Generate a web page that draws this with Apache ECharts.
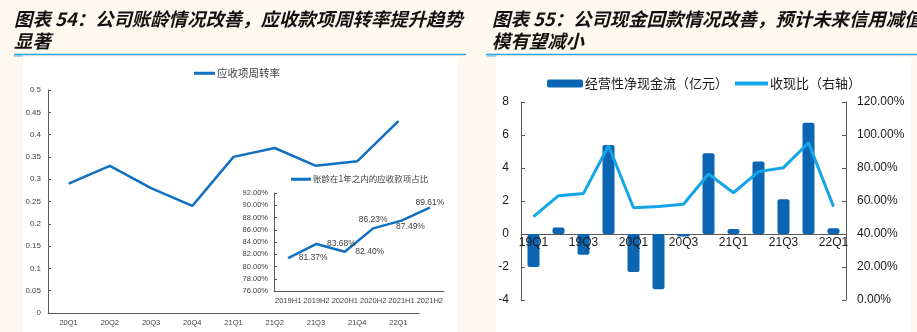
<!DOCTYPE html>
<html><head><meta charset="utf-8">
<script src="https://cdn.jsdelivr.net/npm/echarts@6/dist/echarts.min.js"></script>
<style>html,body{margin:0;padding:0;background:#fef9ee}#c{width:917px;height:332px}</style>
</head><body><div id="c"></div>
<script>
// ---- data ----
const leftCats = ['20Q1','20Q2','20Q3','20Q4','21Q1','21Q2','21Q3','21Q4','22Q1'];
const turnover = [0.29,0.33,0.28,0.24,0.35,0.37,0.33,0.34,0.43];
const insetCats = ['2019H1','2019H2','2020H1','2020H2','2021H1','2021H2'];
const agingShare = [81.37,83.68,82.40,86.23,87.49,89.61];
const rightCats = ['19Q1','19Q2','19Q3','19Q4','20Q1','20Q2','20Q3','20Q4','21Q1','21Q2','21Q3','21Q4','22Q1'];
const cashFlow = [-2.0,0.4,-1.25,5.4,-2.3,-3.35,-0.15,4.9,0.3,4.4,2.1,6.75,0.35];
const collectionRatio = [50.5,63.2,64.6,93.5,55.9,56.6,58.0,76.4,65.0,77.8,80.2,95.3,56.6];
const seriesNames = ['应收项周转率','账龄在1年之内的应收款项占比','经营性净现金流（亿元）','收现比（右轴）'];
const titleLeft = ['图表 54：公司账龄情况改善，应收款项周转率提升趋势','显著'];
const titleRight = ['图表 55：公司现金回款情况改善，预计未来信用减值','模有望减小'];

const chart = echarts.init(document.getElementById('c'));
const grey = '#404040';
const axisGrey = '#595959';
const sans = 'Liberation Sans, Arial, sans-serif';
const cjk = '"Noto Sans CJK SC", sans-serif';
const titleFont = 'italic bold 18.4px "Noto Sans CJK SC", sans-serif';

const insetLabelCfg = [
  {position:'right', distance:10},
  {position:'right', distance:10},
  {position:'right', distance:10},
  {position:'top', distance:4},
  {position:'bottom', distance:1, offset:[9,0]},
  {position:'top', distance:0}
];

const option = {
  backgroundColor: '#fef9ee',
  animation: false,
  graphic: [
    {type:'rect', shape:{x:23,y:57,width:434,height:275}, style:{fill:'#ffffff'}, z:-10},
    {type:'rect', shape:{x:496,y:57,width:415,height:275}, style:{fill:'#ffffff'}, z:-10},
    {type:'rect', shape:{x:14,y:55,width:9,height:2}, style:{fill:'#a8d8f0'}, z:-9},
    {type:'rect', shape:{x:487,y:55,width:9,height:2}, style:{fill:'#a8d8f0'}, z:-9},
    {type:'line', shape:{x1:14,y1:54.5,x2:466,y2:54.5}, style:{stroke:'#2aa6de',lineWidth:1.5}},
    {type:'line', shape:{x1:486,y1:54.5,x2:917,y2:54.5}, style:{stroke:'#2aa6de',lineWidth:1.5}},
    {type:'text', x:14, y:10, style:{text:titleLeft[0], font:titleFont, fill:'#111'}},
    {type:'text', x:14, y:32, style:{text:titleLeft[1], font:titleFont, fill:'#111'}},
    {type:'text', x:492, y:10, style:{text:titleRight[0], font:titleFont, fill:'#111'}},
    {type:'text', x:492, y:32, style:{text:titleRight[1], font:titleFont, fill:'#111'}}
  ],
  legend: [
    {data:[seriesNames[0]], left:189, top:63, itemWidth:21, itemHeight:3, icon:'rect', itemGap:0,
     textStyle:{fontSize:10.5, color:grey, fontFamily:cjk, padding:[0,0,0,-3]}},
    {data:[seriesNames[1]], left:286, top:170, itemWidth:20, itemHeight:3, icon:'rect',
     textStyle:{fontSize:8.5, color:grey, fontFamily:cjk, padding:[0,0,0,-3]}},
    {data:[{name:seriesNames[2], icon:'roundRect'}], left:542, top:72, itemWidth:36, itemHeight:8,
     textStyle:{fontSize:13, color:'#1a1a1a', fontFamily:cjk, padding:[0,0,0,-3]}},
    {data:[{name:seriesNames[3], icon:'rect'}], left:730, top:72, itemWidth:33, itemHeight:4,
     textStyle:{fontSize:13, color:'#1a1a1a', fontFamily:cjk, padding:[0,0,0,-3]}}
  ],
  grid: [
    {left:48, top:90, width:371, height:223},
    {left:274, top:193, width:170, height:98},
    {left:521, top:102, width:325, height:198}
  ],
  xAxis: [
    {type:'category', gridIndex:0, data:leftCats, boundaryGap:true,
     axisLine:{lineStyle:{color:axisGrey,width:1}},
     axisTick:{inside:true, length:4, lineStyle:{color:axisGrey}},
     axisLabel:{fontSize:7.5, color:grey, fontFamily:sans, margin:6}},
    {type:'category', gridIndex:1, data:insetCats, boundaryGap:true,
     axisLine:{lineStyle:{color:axisGrey,width:1}},
     axisTick:{show:false},
     axisLabel:{fontSize:7.5, color:grey, fontFamily:sans, margin:6, interval:0}},
    {type:'category', gridIndex:2, data:rightCats, boundaryGap:true,
     axisLine:{onZero:true, lineStyle:{color:axisGrey,width:1}},
     axisTick:{inside:true, length:4, interval:0, lineStyle:{color:axisGrey}},
     axisLabel:{show:false}},
    {type:'category', gridIndex:2, data:rightCats, boundaryGap:true, position:'bottom', offset:-66, z:10,
     axisLine:{show:false, onZero:false},
     axisTick:{show:false},
     axisLabel:{fontSize:12, color:'#1a1a1a', fontFamily:sans, margin:3, interval:1}}
  ],
  yAxis: [
    {type:'value', gridIndex:0, min:0, max:0.5, interval:0.05,
     splitLine:{show:false},
     axisLine:{show:true, lineStyle:{color:axisGrey}},
     axisTick:{show:true, inside:true, length:3, lineStyle:{color:axisGrey}},
     axisLabel:{fontSize:8, color:grey, fontFamily:sans, margin:7}},
    {type:'value', gridIndex:1, min:76, max:92, interval:2,
     splitLine:{show:false},
     axisLine:{show:true, lineStyle:{color:axisGrey}},
     axisTick:{show:true, inside:true, length:3, lineStyle:{color:axisGrey}},
     axisLabel:{fontSize:7.5, color:grey, fontFamily:sans, margin:6, formatter:v=>v.toFixed(2)+'%'}},
    {type:'value', gridIndex:2, min:-4, max:8, interval:2,
     splitLine:{show:false},
     axisLine:{show:true, lineStyle:{color:axisGrey}},
     axisTick:{show:true, inside:true, length:4, lineStyle:{color:axisGrey}},
     axisLabel:{fontSize:12, color:'#1a1a1a', fontFamily:sans, margin:12}},
    {type:'value', gridIndex:2, position:'right', min:0, max:120, interval:20,
     splitLine:{show:false},
     axisLine:{show:true, lineStyle:{color:axisGrey}},
     axisTick:{show:true, inside:true, length:4, lineStyle:{color:axisGrey}},
     axisLabel:{fontSize:12, color:'#1a1a1a', fontFamily:sans, margin:11, formatter:v=>v.toFixed(2)+'%'}}
  ],
  series: [
    {name:seriesNames[0], type:'line', xAxisIndex:0, yAxisIndex:0, data:turnover,
     symbol:'none', lineStyle:{color:'#0f6fc0', width:2.5}, itemStyle:{color:'#0f6fc0'}},
    {name:seriesNames[1], type:'line', xAxisIndex:1, yAxisIndex:1,
     data:agingShare.map((v,i)=>({value:v, label:insetLabelCfg[i]})),
     symbol:'circle', symbolSize:1, showSymbol:true,
     lineStyle:{color:'#0f6fc0', width:2.5}, itemStyle:{color:'#0f6fc0'},
     label:{show:true, fontSize:8.5, color:grey, fontFamily:sans, formatter:p=>p.value.toFixed(2)+'%'}},
    {name:seriesNames[2], type:'bar', xAxisIndex:2, yAxisIndex:2, data:cashFlow,
     barWidth:12, itemStyle:{color:'#0a66b2', borderRadius:2}},
    {name:seriesNames[3], type:'line', xAxisIndex:2, yAxisIndex:3, data:collectionRatio,
     symbol:'none', z:5, lineStyle:{color:'#14a5e8', width:3}, itemStyle:{color:'#14a5e8'}}
  ]
};
chart.setOption(option);
</script></body></html>
